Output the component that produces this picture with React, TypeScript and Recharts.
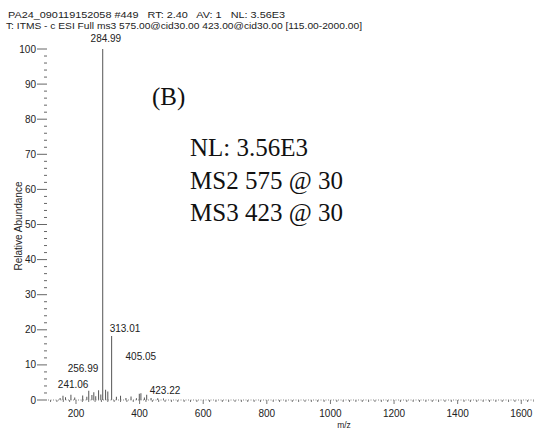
import { ComposedChart, Bar, XAxis, YAxis, ReferenceDot } from 'recharts'

// m/z of every stick in the spectrum and its relative abundance (%)
const MZ = [151, 160, 168, 185, 197, 222, 235, 241.06, 251, 256.99, 263, 272, 279, 284.99, 294, 301, 313.01, 328, 341, 358, 374, 391, 400, 405.05, 416, 423.22, 437, 458, 476]
const ABUNDANCE = [0.6, 1.2, 0.8, 1.5, 0.7, 1.3, 0.9, 2.6, 1.4, 2.2, 1.1, 2.8, 1.6, 100, 2.9, 2.4, 18.2, 0.9, 1.2, 0.6, 1.0, 0.5, 1.8, 1.9, 0.7, 1.5, 0.6, 0.5, 0.4]

// peak labels and where the instrument software put them (data units)
const PEAK_LABELS = ['241.06', '256.99', '284.99', '313.01', '405.05', '423.22']
const LABEL_MZ = [191, 222, 294, 354, 404, 480]
const LABEL_LEVEL = [4.3, 9.1, 103.1, 20.5, 12.3, 2.6]

const X_MAJOR = [200, 400, 600, 800, 1000, 1200, 1400, 1600]
const X_TICKS = Array.from({ length: 77 }, (_, i) => 120 + i * 20)
const Y_TICKS = Array.from({ length: 51 }, (_, i) => i * 2)

const HEADER = [
  'PA24_090119152058 #449   RT: 2.40   AV: 1   NL: 3.56E3',
  'T: ITMS - c ESI Full ms3 575.00@cid30.00 423.00@cid30.00 [115.00-2000.00]',
]
const NOTES = ['NL: 3.56E3', 'MS2 575 @ 30', 'MS3 423 @ 30']

const data = MZ.map((mz, i) => ({ mz, ab: ABUNDANCE[i] }))

const SANS = '"Liberation Sans", Arial, sans-serif'
const SERIF = '"Liberation Serif", "Times New Roman", serif'

const YTick = ({ x, y, payload }: any) => {
  const v = payload.value
  const major = v % 10 === 0
  return (
    <g>
      <line x1={major ? x - 11 : x - 4} x2={x - 1} y1={y} y2={y} stroke="#666" />
      {major && (
        <text x={x - 12} y={y} dy={3.5} textAnchor="end" fontSize={10} fontFamily={SANS} fill="#222">
          {v}
        </text>
      )}
    </g>
  )
}

const XTick = ({ x, y, payload }: any) => {
  const v = payload.value
  const major = X_MAJOR.includes(v)
  return (
    <g>
      <line x1={x} x2={x} y1={y} y2={y + (major ? 4 : 2)} stroke="#777" />
      {major && (
        <text x={x} y={y + 17} textAnchor="middle" fontSize={10} fontFamily={SANS} fill="#222">
          {v}
        </text>
      )}
    </g>
  )
}

export default function App() {
  return (
    <div style={{ position: 'absolute', left: 0, top: 0, width: 534, height: 434, background: '#fff' }}>
      <ComposedChart width={534} height={434} data={data} margin={{ top: 49, right: 0, bottom: 0, left: 0 }}>
        <XAxis
          type="number"
          dataKey="mz"
          domain={[112, 1640]}
          ticks={X_TICKS}
          interval={0}
          height={34}
          tickSize={0}
          tickMargin={0}
          tickLine={false}
          tick={<XTick />}
          axisLine={{ stroke: '#888', strokeDasharray: '1 1.5' }}
        />
        <YAxis
          type="number"
          domain={[0, 100]}
          ticks={Y_TICKS}
          interval={0}
          width={48}
          tickSize={0}
          tickMargin={0}
          tickLine={false}
          axisLine={false}
          tick={<YTick />}
        />
        <Bar dataKey="ab" barSize={1} fill="#555" isAnimationActive={false} />
        {PEAK_LABELS.map((t, i) => (
          <ReferenceDot
            key={t}
            x={LABEL_MZ[i]}
            y={LABEL_LEVEL[i]}
            r={0}
            fill="none"
            stroke="none"
            ifOverflow="visible"
            label={{ value: t, position: 'center', fontSize: 10, fontFamily: SANS, fill: '#222' }}
          />
        ))}
      </ComposedChart>
      <svg width={534} height={434} style={{ position: 'absolute', left: 0, top: 0, pointerEvents: 'none' }}>
        <text x={8} y={18} fontSize={9} fontFamily={SANS} fill="#222" textLength={277} lengthAdjust="spacingAndGlyphs" style={{ whiteSpace: 'pre' }}>
          {HEADER[0]}
        </text>
        <text x={6} y={29} fontSize={9} fontFamily={SANS} fill="#222" textLength={356} lengthAdjust="spacingAndGlyphs">
          {HEADER[1]}
        </text>
        <text x={18} y={226} transform="rotate(-90 18 226)" textAnchor="middle" dy={3.5} fontSize={10} fontFamily={SANS} fill="#222">
          Relative Abundance
        </text>
        <text x={344} y={428} textAnchor="middle" fontSize={8.5} fontFamily={SANS} fill="#222">
          m/z
        </text>
        <text x={152} y={105} fontSize={25} fontFamily={SERIF} fill="#111">
          (B)
        </text>
        {NOTES.map((n, i) => (
          <text key={n} x={190} y={156 + i * 32.5} fontSize={25} fontFamily={SERIF} fill="#111">
            {n}
          </text>
        ))}
      </svg>
    </div>
  )
}
